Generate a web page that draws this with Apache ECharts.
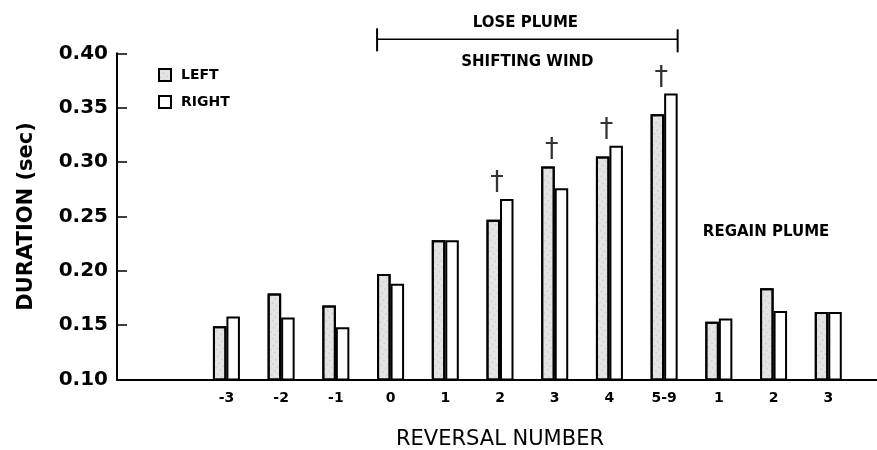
<!DOCTYPE html>
<html>
<head>
<meta charset="utf-8">
<script src="https://cdn.jsdelivr.net/npm/echarts@6/dist/echarts.min.js"></script>
<style>
  html, body { margin: 0; padding: 0; background: #fff; }
  #chart { width: 877px; height: 450px; }
</style>
</head>
<body>
<div id="chart"></div>
<script>
// ---- data ----
var categories = ['', '', '-3', '-2', '-1', '0', '1', '2', '3', '4', '5-9', '1', '2', '3', ''];
var leftValues  = [null, null, 0.149, 0.179, 0.168, 0.197, 0.228, 0.247, 0.296, 0.305, 0.344, 0.153, 0.184, 0.162, null];
var rightValues = [null, null, 0.158, 0.157, 0.148, 0.188, 0.228, 0.266, 0.276, 0.315, 0.363, 0.156, 0.163, 0.162, null];
var daggerIdx = [7, 8, 9, 10];           // categories '2','3','4','5-9' (lose plume phase)
var loseStartIdx = 5, loseEndIdx = 10;  // bracket from '0' to '5-9'
var regainStartIdx = 11;
var yTicks = { min: 0.10, max: 0.40, interval: 0.05 };

var FONT = 'DejaVu Sans';
var BAR_W = 13.5;

var daggerData = daggerIdx.map(function (i) {
  return [i, Math.max(leftValues[i], rightValues[i])];
});

var chart = echarts.init(document.getElementById('chart'), null, { renderer: 'canvas' });

var option = {
  animation: false,
  backgroundColor: '#ffffff',
  grid: { left: 117, right: -6, top: 53.3, bottom: 70.5, containLabel: false, outerBoundsMode: 'none' },
  legend: {
    data: ['LEFT', 'RIGHT'],
    orient: 'vertical',
    left: 153, top: 63,
    itemWidth: 12, itemHeight: 12, itemGap: 13,
    icon: 'rect',
    textStyle: { fontFamily: FONT, fontSize: 14, fontWeight: 'bold', color: '#000', padding: [0, 0, 0, 5] }
  },
  xAxis: {
    type: 'category',
    data: categories,
    boundaryGap: false,
    axisLine: { lineStyle: { color: '#000', width: 2 } },
    axisTick: { show: false },
    axisLabel: { interval: 0, margin: 12, color: '#000', fontFamily: FONT, fontSize: 14, fontWeight: 'bold' },
    name: 'REVERSAL NUMBER',
    nameLocation: 'middle',
    nameGap: 50,
    nameTextStyle: { fontFamily: FONT, fontSize: 21, color: '#000' },
    splitLine: { show: false }
  },
  yAxis: {
    type: 'value',
    min: yTicks.min, max: yTicks.max, interval: yTicks.interval,
    axisLine: { show: true, lineStyle: { color: '#000', width: 2 } },
    axisTick: { show: true, inside: true, length: 10, lineStyle: { color: '#000', width: 1.5 } },
    axisLabel: {
      margin: 9, color: '#000', fontFamily: FONT, fontSize: 20, fontWeight: 'bold',
      formatter: function (v) { return v.toFixed(2); }
    },
    splitLine: { show: false },
    name: 'DURATION (sec)',
    nameLocation: 'middle',
    nameGap: 80,
    nameRotate: 90,
    nameTextStyle: { fontFamily: FONT, fontSize: 21, fontWeight: 'bold', color: '#000' }
  },
  series: [
    {
      name: 'LEFT', type: 'bar', data: leftValues,
      barWidth: BAR_W, barGap: '0%',
      itemStyle: {
        color: '#e4e4e4', borderColor: '#000', borderWidth: 2,
        decal: { symbol: 'circle', symbolSize: 0.5, color: 'rgba(0,0,0,0.35)', dashArrayX: [2, 3], dashArrayY: [2, 3], rotation: 0.6 }
      }
    },
    {
      name: 'RIGHT', type: 'bar', data: rightValues,
      barWidth: BAR_W, barGap: '0%',
      itemStyle: { color: '#ffffff', borderColor: '#000', borderWidth: 2 }
    },
    {
      name: 'dagger', type: 'scatter', data: daggerData,
      symbolSize: 1, itemStyle: { color: 'rgba(0,0,0,0)' },
      silent: true, z: 5,
      label: {
        show: true, position: 'top', distance: 2, offset: [-3, 0],
        formatter: '\u2020', color: '#000', fontFamily: FONT, fontSize: 27
      }
    }
  ]
};

chart.setOption(option);

// annotations placed through the chart's own scales
var p0 = chart.convertToPixel({ xAxisIndex: 0, yAxisIndex: 0 }, [loseStartIdx, yTicks.max]);
var p1 = chart.convertToPixel({ xAxisIndex: 0, yAxisIndex: 0 }, [loseEndIdx, yTicks.max]);
var pr = chart.convertToPixel({ xAxisIndex: 0, yAxisIndex: 0 }, [regainStartIdx, 0.236]);
var x0 = p0[0] - BAR_W, x1 = p1[0] + BAR_W, xm = (x0 + x1) / 2;
var yB = p0[1] - 14;

chart.setOption({
  graphic: [
    { type: 'line', shape: { x1: x0, y1: yB, x2: x1, y2: yB }, style: { stroke: '#000', lineWidth: 1.5 } },
    { type: 'line', shape: { x1: x0, y1: yB - 11, x2: x0, y2: yB + 12 }, style: { stroke: '#000', lineWidth: 2 } },
    { type: 'line', shape: { x1: x1, y1: yB - 10, x2: x1, y2: yB + 13 }, style: { stroke: '#000', lineWidth: 2 } },
    { type: 'text', x: xm - 2, y: yB - 16, style: { text: 'LOSE PLUME', fill: '#000', font: 'bold 15px "DejaVu Sans"', textAlign: 'center', textVerticalAlign: 'middle' } },
    { type: 'text', x: xm, y: yB + 23, style: { text: 'SHIFTING WIND', fill: '#000', font: 'bold 15px "DejaVu Sans"', textAlign: 'center', textVerticalAlign: 'middle' } },
    { type: 'text', x: pr[0] - 16, y: pr[1], style: { text: 'REGAIN PLUME', fill: '#000', font: 'bold 15px "DejaVu Sans"', textAlign: 'left', textVerticalAlign: 'middle' } }
  ]
});
</script>
</body>
</html>
